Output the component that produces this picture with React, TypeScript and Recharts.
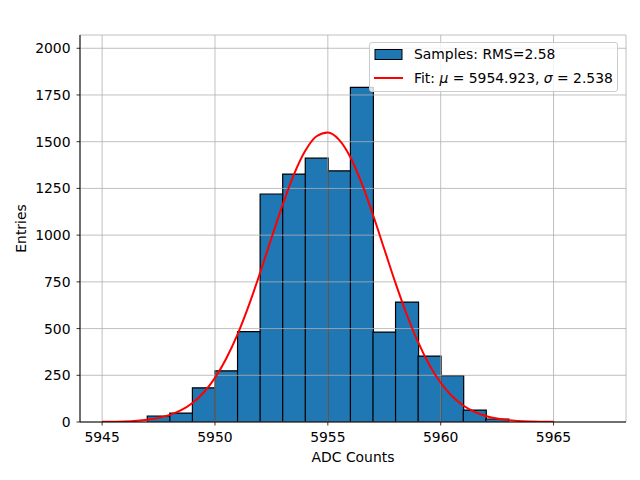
import React from "react";
import {
    ComposedChart,
    Bar,
    Line,
    XAxis,
    YAxis,
    CartesianGrid,
    Legend,
} from "recharts";

// histogram bins (lower edge, 1 ADC wide) and their entries
const binLow = [5947, 5948, 5949, 5950, 5951, 5952, 5953, 5954, 5955, 5956, 5957, 5958, 5959, 5960, 5961, 5962];
const binCounts = [32, 48, 183, 274, 484, 1220, 1327, 1412, 1344, 1791, 481, 642, 353, 248, 64, 16];

// gaussian fit
const fitX = [
    5945, 5946, 5947, 5947.5, 5948, 5948.5, 5949, 5949.5, 5950, 5950.5, 5951, 5951.5,
    5952, 5952.5, 5953, 5953.5, 5954, 5954.5, 5955, 5955.5, 5956, 5956.5, 5957, 5957.5,
    5958, 5958.5, 5959, 5959.5, 5960, 5960.5, 5961, 5961.5, 5962, 5963, 5964, 5965
];
const fitY = [
    1, 3, 12, 22, 38, 63, 102, 158, 236, 340, 469, 624,
    799, 983, 1163, 1325, 1451, 1529, 1549, 1510, 1417, 1278, 1109, 926,
    743, 574, 427, 305, 210, 139, 88, 54, 32, 10, 3, 1
];

const xTicks = [5945, 5950, 5955, 5960, 5965];
const yTicks = [0, 250, 500, 750, 1000, 1250, 1500, 1750, 2000];
const xDomain = [5944.02, 5968.21];
const yDomain = [0, 2071];

const title = "Run 677, channel044, Pedestal";
const histLabel = "Samples: RMS=2.58";

const histData = binLow.map((lo, i) => ({ x: lo + 0.5, count: binCounts[i] }));
const fitData = fitX.map((x, i) => ({ x, y: fitY[i] }));

const W = 640;
const H = 480;
const margin = { top: 35, right: 14, bottom: 0, left: 0 };

const FONT = "'DejaVu Sans', sans-serif";
const tickStyle = { fill: "#000", fontSize: 13.9 };

const renderLegend = () => (
    <div
        style={{
            position: "relative",
            width: 249,
            height: 50,
            boxSizing: "border-box",
            border: "1px solid #cccccc",
            borderRadius: 3,
            background: "rgba(255,255,255,0.8)",
            fontSize: 13.9,
            color: "#000",
            fontFamily: FONT,
        }}
    >
        <svg width={40} height={50} style={{ position: "absolute", left: 0, top: 0 }}>
            <rect x={5} y={6.5} width={27} height={10} fill="#1f77b4" stroke="#000" strokeWidth={1} />
            <line x1={4} y1={35} x2={33} y2={35} stroke="red" strokeWidth={2} />
        </svg>
        <div style={{ position: "absolute", left: 44, top: 3, whiteSpace: "nowrap" }}>{histLabel}</div>
        <div style={{ position: "absolute", left: 44, top: 27, whiteSpace: "nowrap" }}>
            Fit: <i>μ</i> = 5954.923, <i>σ</i> = 2.538
        </div>
    </div>
);

const App: React.FC = () => {
    return (
        <div style={{ position: "absolute", left: 0, top: 0, width: W, height: H, background: "#fff", fontFamily: FONT }}>
            <ComposedChart width={W} height={H} data={histData} margin={margin} barCategoryGap={0} barGap={0}>
                <XAxis
                    dataKey="x"
                    type="number"
                    domain={xDomain}
                    ticks={xTicks}
                    allowDataOverflow
                    height={58}
                    tick={tickStyle}
                    tickSize={3.5}
                    tickMargin={7}
                    axisLine={{ stroke: "#000", strokeWidth: 1 }}
                    tickLine={{ stroke: "#000", strokeWidth: 0.8 }}
                    label={{ value: "ADC Counts", position: "insideBottom", offset: 18, fill: "#000", fontSize: 13.9 }}
                />
                <XAxis
                    xAxisId="fit"
                    orientation="top"
                    dataKey="x"
                    type="number"
                    domain={xDomain}
                    allowDataOverflow
                    height={0}
                    tick={false}
                    tickLine={false}
                    axisLine={{ stroke: "#000", strokeWidth: 1 }}
                    label={{ value: title, position: "top", offset: 8, fill: "#000", fontSize: 16.7 }}
                />
                <YAxis
                    type="number"
                    domain={yDomain}
                    ticks={yTicks}
                    allowDataOverflow
                    width={80}
                    tick={tickStyle}
                    tickSize={3.5}
                    tickMargin={6}
                    axisLine={{ stroke: "#000", strokeWidth: 1 }}
                    tickLine={{ stroke: "#000", strokeWidth: 0.8 }}
                    label={{
                        value: "Entries",
                        angle: -90,
                        position: "insideLeft",
                        offset: 21,
                        fill: "#000",
                        fontSize: 13.9,
                        style: { textAnchor: "middle" },
                    }}
                />
                <YAxis
                    yAxisId="right"
                    orientation="right"
                    type="number"
                    domain={yDomain}
                    width={0}
                    tick={false}
                    tickLine={false}
                    axisLine={{ stroke: "#000", strokeWidth: 1 }}
                />
                <Bar
                    dataKey="count"
                    fill="#1f77b4"
                    stroke="#000"
                    strokeWidth={1.2}
                    zIndex={1}
                    isAnimationActive={false}
                />
                <CartesianGrid stroke="#b0b0b0" strokeWidth={0.8} zIndex={2} />
                <Line
                    data={fitData}
                    xAxisId="fit"
                    dataKey="y"
                    type="monotone"
                    stroke="red"
                    strokeWidth={2}
                    dot={false}
                    zIndex={3}
                    isAnimationActive={false}
                />
                <Legend
                    layout="horizontal"
                    align="center"
                    verticalAlign="middle"
                    content={renderLegend}
                    wrapperStyle={{ left: 369, top: 42, width: 249, height: 50 }}
                />
            </ComposedChart>
        </div>
    );
};

export default App;
